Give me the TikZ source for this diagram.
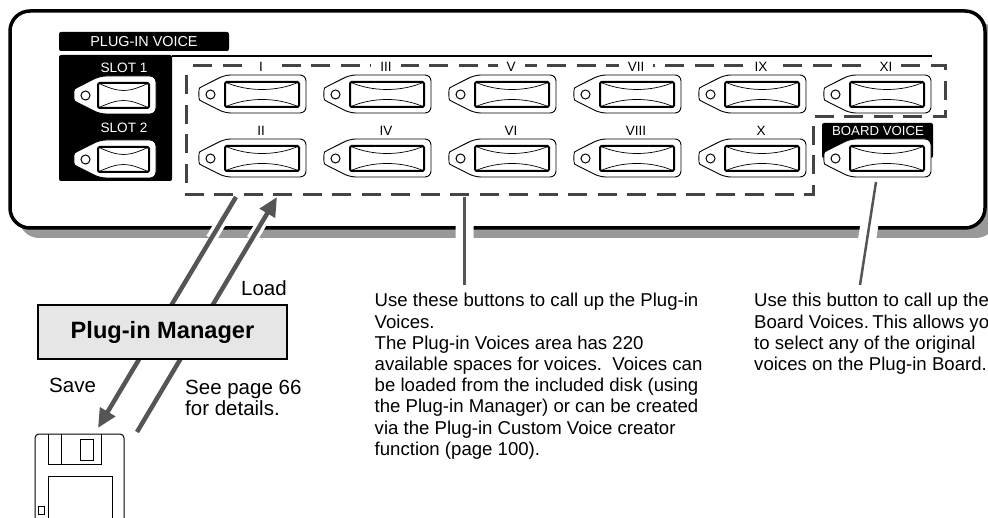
\documentclass[tikz,border=0pt]{standalone}
\usepackage{fontspec}
\setmainfont{Liberation Sans}
\usetikzlibrary{arrows.meta,calc}
\definecolor{ink}{HTML}{000000}
\definecolor{arrowgray}{HTML}{555555}
\definecolor{dashgray}{HTML}{444444}
\definecolor{shadowgray}{HTML}{999999}
\definecolor{mgrfill}{HTML}{E6E6E6}
\tikzset{
  pics/btn/.style 2 args={code={
    \draw[ink,fill=white,line width=0.9pt,rounded corners=6pt] (25,0) -- (5,10) .. controls (-1.5,13.5) and (-1.5,24.5) .. (5,28) -- (25,38) -- ({#1},38) -- ({#1},0) -- cycle;
    \draw[ink,line width=1pt] (10.5,19.5) circle[radius=4.5];
    \draw[ink,line width=2pt,rounded corners=1.5pt] (#2,7) rectangle ({#1-7},32);
    \draw[ink,line width=0.7pt] (#2,7) .. controls ({#2+22},17) and ({#1-29},17) .. ({#1-7},7);
    \draw[ink,line width=0.7pt] (#2,32) .. controls ({#2+22},22) and ({#1-29},22) .. ({#1-7},32);
  }},
  numlab/.style={fill=white,inner xsep=9pt,inner ysep=2pt,font=\fontsize{13.5}{14}\selectfont,text=ink},
  blacklab/.style={text=white,inner sep=0pt,font=\fontsize{#1}{#1}\selectfont},
  note/.style={anchor=north west,inner sep=0pt,align=left,text=ink,font=\fontsize{18.6}{21.2}\selectfont},
  tag/.style={anchor=north west,inner sep=0pt,align=left,text=ink,font=\fontsize{20.5}{21}\selectfont},
  halo/.style={white,line width=#1},
  move/.style={arrowgray,line width=4.5pt,-{Triangle[length=19pt,width=17pt]}},
  lead/.style={arrowgray,line width=2.5pt},
}
\begin{document}
\begin{tikzpicture}[x=1pt,y=-1pt]
  \useasboundingbox (0,0) rectangle (988,518);
  % panel
  \fill[shadowgray,rounded corners=20pt] (19,21) rectangle (996,238);
  \draw[ink,fill=white,line width=3.5pt,rounded corners=20pt] (10,11) rectangle (985,228);
  % header
  \fill[ink,rounded corners=2pt] (59,32) rectangle (229,51);
  \node[blacklab=14.4] (plugin) at (144,41.5) {PLUG-IN VOICE};
  \fill[ink,rounded corners=2pt] (59,55) -- (172,55) -- (172,181) -- (59,181) -- cycle;
  \draw[ink,line width=1.5pt] (172,56) -- (932,56);
  \node[blacklab=13.6] (slotA) at (124,68) {SLOT 1};
  \node[blacklab=13.6] (slotB) at (124,128) {SLOT 2};
  \pic at (75,76) {btn={81}{23}};
  \pic at (75,140) {btn={81}{23}};
  % dashed area
  \draw[dashgray,line width=3pt,dash pattern=on 19pt off 10.5pt,dash phase=22.5pt] (186,66) -- (945,66) -- (945,117) -- (813,117) -- (813,195) -- (186,195) -- cycle;
  % voice buttons
  \foreach \x/\a/\b in {200/I/II,325/III/IV,450/V/VI,575/VII/VIII,700/IX/X} {
    \pic at (\x,75) {btn={106}{25}};
    \pic at (\x,139) {btn={106}{25}};
    \node[numlab] (lab\a) at (\x+61,67) {\a};
    \node[numlab] (lab\b) at (\x+61,131) {\b};
  }
  \pic at (825,75) {btn={106}{25}};
  \node[numlab] (labXI) at (886,67) {XI};
  % board voice
  \fill[ink,rounded corners=2pt] (822,123) rectangle (933,158);
  \node[blacklab=13.2] (board) at (878,131) {BOARD VOICE};
  \pic at (825,139) {btn={106}{25}};
  % connectors
  \coordinate (savefrom) at (236,197);
  \coordinate (saveto) at (98,428);
  \coordinate (loadfrom) at (137,432);
  \coordinate (loadto) at (277,197);
  \coordinate (leadA) at (464.5,197);
  \coordinate (leadAend) at (464.5,285);
  \coordinate (leadB) at (876,182);
  \coordinate (leadBend) at (860,285);
  \draw[halo=11pt] ($(savefrom)!0.03!(saveto)$) -- ($(savefrom)!0.18!(saveto)$);
  \draw[halo=11pt] ($(loadto)!0.06!(loadfrom)$) -- ($(loadto)!0.18!(loadfrom)$);
  \draw[halo=18pt] ($(leadA)!0.2!(leadAend)$) -- ($(leadA)!0.5!(leadAend)$);
  \draw[halo=18pt] ($(leadB)!0.36!(leadBend)$) -- ($(leadB)!0.56!(leadBend)$);
  \draw[move] (savefrom) -- (saveto);
  \draw[move] (loadfrom) -- (loadto);
  \draw[lead] (leadA) -- (leadAend);
  \draw[lead] (leadB) -- (leadBend);
  % plug-in manager
  \node[draw=ink,fill=mgrfill,line width=1.5pt,minimum width=249pt,minimum height=54pt,inner sep=0pt,font=\fontsize{23.6}{24}\selectfont\bfseries,text=ink] (manager) at (162.5,332) {Plug-in Manager};
  \node[tag] (load) at (241,280.7) {Load};
  \node[tag] (save) at (49,378.3) {Save};
  \node[tag] (seepage) at (185,380) {See page 66\\for details.};
  % notes
  \node[note] (notevoices) at (374.5,293.2) {Use these buttons to call up the Plug-in\\Voices.\\The Plug-in Voices area has 220\\available spaces for voices.\ \ Voices can\\be loaded from the included disk (using\\the Plug-in Manager) or can be created\\via the Plug-in Custom Voice creator\\function (page 100).};
  \node[note] (noteboard) at (754,293.2) {Use this button to call up the\\Board Voices.\hspace{-3.5pt} This allows yo\\to select any of the original\\voices on the Plug-in Board.};
  % disk
  \draw[ink,line width=1pt,rounded corners=4pt] (35,530) -- (35,434) -- (124,434) -- (124,530);
  \draw[ink,line width=1pt] (48.5,434) -- (48.5,464) -- (101,464) -- (101,434);
  \draw[ink,line width=1pt] (61,434) -- (61,464);
  \draw[ink,line width=0.8pt] (80.5,439.5) rectangle (93.5,460.5);
  \draw[ink,line width=1pt] (48,530) -- (48,476) -- (112,476) -- (112,530);
  \draw[ink,line width=1pt] (38.5,506.5) rectangle (44.5,514);
\end{tikzpicture}
\end{document}
